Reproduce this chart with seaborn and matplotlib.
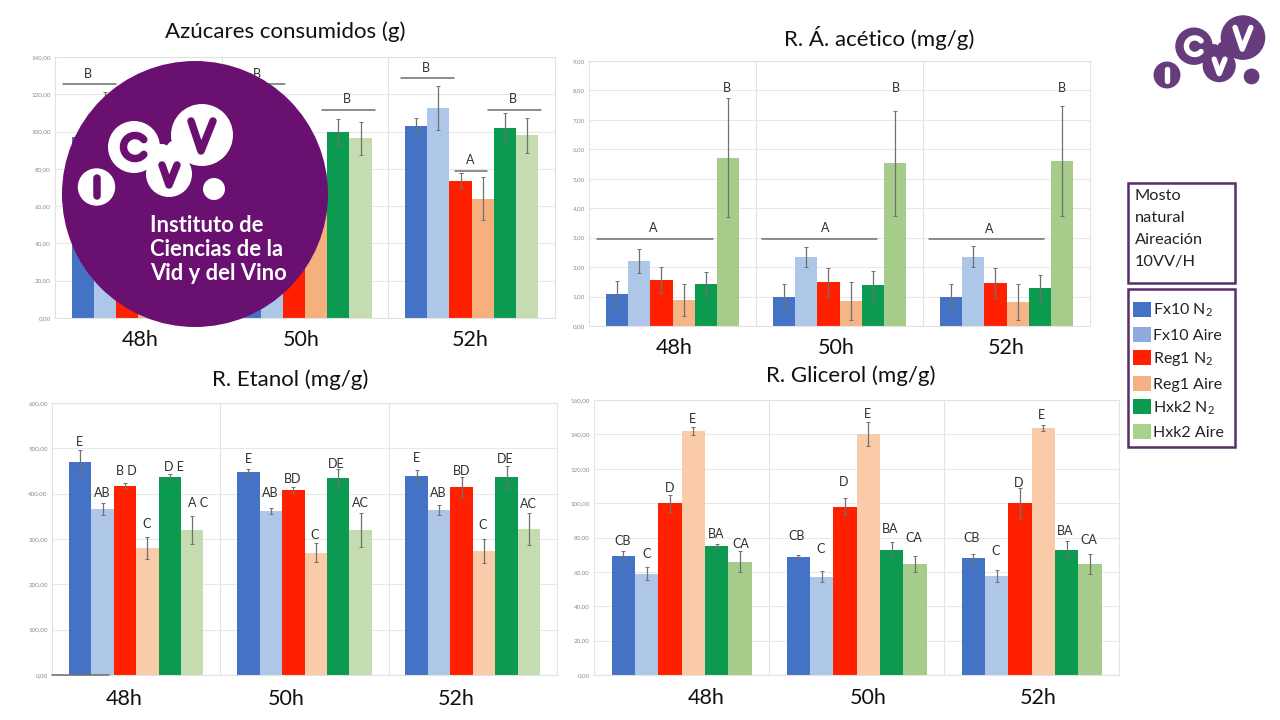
import matplotlib
matplotlib.use("Agg")
import matplotlib.pyplot as plt
from matplotlib.patches import Circle, Rectangle, Arc, Patch
import pandas as pd
import seaborn as sns

times = ["48h", "50h", "52h"]
strains = ["Fx10 N$_2$", "Fx10 Aire", "Reg1 N$_2$", "Reg1 Aire", "Hxk2 N$_2$", "Hxk2 Aire"]

# values per strain across 48h, 50h, 52h (azúcares at 48h/50h partly hidden by the logo: estimates)
azucares_vals = [[97, 101, 103], [110, 111, 112.5], [75, 75, 73.7], [65, 65, 64], [100, 100, 102], [96, 96.3, 98]]
azucares_errs = [[5, 5, 4.5], [11, 11, 11.7], [4, 4, 4.2], [11, 11, 11.5], [7, 7, 7.8], [9, 8.7, 9.5]]
acetico_vals = [[1.10, 1.00, 0.97], [2.20, 2.35, 2.35], [1.55, 1.48, 1.46], [0.88, 0.86, 0.82], [1.42, 1.38, 1.29], [5.72, 5.52, 5.60]]
acetico_errs = [[0.42, 0.43, 0.44], [0.41, 0.33, 0.35], [0.44, 0.49, 0.52], [0.55, 0.65, 0.61], [0.41, 0.48, 0.43], [2.02, 1.79, 1.87]]
etanol_vals = [[470, 447, 440], [367, 361, 364], [418, 408, 415], [280, 270, 273], [437, 435, 436], [319, 320, 322]]
etanol_errs = [[26, 7, 12], [13.5, 6.5, 10], [6, 7, 22], [25, 21, 26], [6, 20, 25], [31, 37, 36]]
glicerol_vals = [[69.5, 68.8, 67.8], [59, 57.3, 57.5], [100, 98, 99.8], [142, 140, 143.5], [75, 73, 73], [66, 64.5, 64.5]]
glicerol_errs = [[2.4, 0.8, 2.8], [4, 3.3, 3.6], [5, 5, 9], [2.2, 7, 1.7], [1.2, 4.5, 5], [6, 4.7, 5.8]]

azucares_ticks = [0, 20, 40, 60, 80, 100, 120, 140]
acetico_ticks = [0, 1, 2, 3, 4, 5, 6, 7, 8, 9]
etanol_ticks = [0, 100, 200, 300, 400, 500, 600]
glicerol_ticks = [0, 20, 40, 60, 80, 100, 120, 140, 160]

BLUE, LBLUE, RED, GREEN = "#4472c4", "#aec6e8", "#ff2000", "#0b9a4f"
pal_az = [BLUE, LBLUE, RED, "#f6b07e", GREEN, "#c5dcb0"]
pal_ac = [BLUE, LBLUE, RED, "#f6b586", GREEN, "#a5cc8a"]
pal_et = [BLUE, LBLUE, RED, "#f9cba8", GREEN, "#c5dcb0"]
pal_gl = [BLUE, LBLUE, RED, "#f9cba8", GREEN, "#a5cc8a"]

# annotations: (x in category units, y in data units, text)
az_text = [(-0.30, 131, "B"), (0.713, 131, "B"), (1.25, 117.6, "B"), (1.726, 134, "B"), (1.99, 85, "A"), (2.249, 117.6, "B")]
az_lines = [(-0.454, -0.131, 125.3), (0.544, 0.882, 125.3), (1.10, 1.42, 111.5), (1.574, 1.895, 128.9), (1.899, 2.09, 79), (2.097, 2.418, 111.5)]
ac_text = [(-0.116, 3.34, "A"), (0.327, 8.1, "B"), (0.914, 3.34, "A"), (1.34, 8.1, "B"), (1.898, 3.31, "A"), (2.33, 8.1, "B")]
ac_lines = [(-0.45, 0.242, 2.97), (0.533, 1.224, 2.97), (1.533, 2.224, 2.94)]
et_text = [(-0.337, 513, "E"), (-0.2, 401, "AB"), (-0.06, 449, "B D"), (0.06, 332, "C"), (0.227, 459, "D E"), (0.368, 379, "A C"),
           (0.667, 477, "E"), (0.794, 401, "AB"), (0.932, 433, "BD"), (1.06, 309, "C"), (1.19, 466, "DE"), (1.33, 379, "AC"),
           (1.663, 479, "E"), (1.794, 401, "AB"), (1.934, 449, "BD"), (2.06, 330, "C"), (2.19, 477, "DE"), (2.33, 377, "AC")]
et_lines = [(-0.5, -0.16, 0)]
gl_text = [(-0.337, 77.8, "CB"), (-0.198, 70.2, "C"), (-0.069, 109, "D"), (0.063, 149, "E"), (0.198, 81.8, "BA"), (0.337, 76, "CA"),
           (0.657, 80.9, "CB"), (0.796, 73.5, "C"), (0.927, 112.3, "D"), (1.06, 152, "E"), (1.19, 85, "BA"), (1.33, 79.5, "CA"),
           (1.655, 79.9, "CB"), (1.796, 72.3, "C"), (1.924, 111.5, "D"), (2.055, 151.3, "E"), (2.19, 84, "BA"), (2.33, 78.7, "CA")]
gl_lines = []

W, H = 1280, 720
FONT = ["Lato", "DejaVu Sans"]
panels = [
    dict(title="Azúcares consumidos (g)", box=(55, 555, 57, 318), tc=(285, 32), vals=azucares_vals, errs=azucares_errs,
         ticks=azucares_ticks, pal=pal_az, text=az_text, lines=az_lines, labx=(140, 301, 470), pad=9),
    dict(title="R. Á. acético (mg/g)", box=(589, 1090, 61, 326), tc=(879, 38), vals=acetico_vals, errs=acetico_errs,
         ticks=acetico_ticks, pal=pal_ac, text=ac_text, lines=ac_lines, labx=(674, 836, 1006), pad=9),
    dict(title="R. Etanol (mg/g)", box=(52, 557, 403, 675), tc=(290, 380), vals=etanol_vals, errs=etanol_errs,
         ticks=etanol_ticks, pal=pal_et, text=et_text, lines=et_lines, labx=(124, 286, 456), pad=10),
    dict(title="R. Glicerol (mg/g)", box=(594, 1119, 400, 675), tc=(851, 376), vals=glicerol_vals, errs=glicerol_errs,
         ticks=glicerol_ticks, pal=pal_gl, text=gl_text, lines=gl_lines, labx=(706, 868, 1038), pad=9),
]

sns.set_theme(style="whitegrid")
plt.rcParams["font.family"] = FONT
plt.rcParams["mathtext.default"] = "regular"
fig = plt.figure(figsize=(W / 100, H / 100), dpi=100, facecolor="white")

for p in panels:
    l, r, t, b = p["box"]
    ax = fig.add_axes([l / W, 1 - b / H, (r - l) / W, (b - t) / H])
    df = pd.DataFrame(
        [(tm, s, p["vals"][i][j]) for i, s in enumerate(strains) for j, tm in enumerate(times)],
        columns=["time", "strain", "value"],
    )
    sns.barplot(data=df, x="time", y="value", hue="strain", order=times, hue_order=strains, palette=p["pal"],
                width=0.8, gap=0, saturation=1, errorbar=None, legend=False, linewidth=0, ax=ax)
    bar_groups = list(ax.containers)
    for i, cont in enumerate(bar_groups):
        for j, bar in enumerate(cont):
            ax.errorbar(bar.get_x() + bar.get_width() / 2, bar.get_height(), yerr=p["errs"][i][j],
                        color="#707070", lw=0.9, capsize=1.2, capthick=0.7, zorder=4)
    ax.set_xlim(-0.5, 2.5)
    ax.set_ylim(p["ticks"][0], p["ticks"][-1])
    ax.set_yticks(p["ticks"], [f"{v:.2f}".replace(".", ",") for v in p["ticks"]])
    ax.set_xticks([(x - l) / (r - l) * 3 - 0.5 for x in p["labx"]], times)
    ax.tick_params(axis="y", labelsize=4.5, labelcolor="#8c8c8c", length=0, pad=3)
    ax.tick_params(axis="x", labelsize=15.5, labelcolor="#111111", length=0, pad=p["pad"])
    ax.set_xlabel("")
    ax.set_ylabel("")
    ax.grid(False, axis="x")
    ax.grid(True, axis="y", color="#e8e8e8", lw=0.8)
    ax.set_axisbelow(True)
    for xv in (0.5, 1.5):
        ax.axvline(xv, color="#e2e2e2", lw=0.8, zorder=0)
    for s in ax.spines.values():
        s.set_color("#e2e2e2")
        s.set_linewidth(0.8)
    for x0, x1, y in p["lines"]:
        ax.plot([x0, x1], [y, y], color="#6e6e6e", lw=1.1, zorder=5, clip_on=False)
    for x, y, s in p["text"]:
        ax.text(x, y, s, ha="center", va="center", fontsize=9, color="#303030", zorder=6)
    ax.set_title(p["title"], x=(p["tc"][0] - l) / (r - l), y=(b - p["tc"][1]) / (b - t), pad=0, va="center",
                 fontsize=16, color="#111111")

# overlay in pixel coordinates for logos and side boxes
ov = fig.add_axes([0, 0, 1, 1], facecolor="none", zorder=10)
ov.set_xlim(0, W)
ov.set_ylim(H, 0)
ov.axis("off")


def logo(ox, oy, k, bg, fg):
    def P(x, y):
        return ox + (x - 96.5) * k, oy + (y - 187) * k
    for x, y, rad in [(96.5, 187, 18.7), (134, 147, 26), (202, 135, 31), (169, 174, 23), (214, 189, 11), (162, 153, 9), (176, 150, 10)]:
        ov.add_patch(Circle(P(x, y), rad * k, fc=bg, ec="none"))
    lw = 7.5 * k * 0.72
    ov.plot(*zip(P(96.5, 178), P(96.5, 196)), color=fg, lw=lw, solid_capstyle="round")
    ov.add_patch(Arc(P(135, 147), 23 * k, 23 * k, angle=0, theta1=40, theta2=320, color=fg, lw=lw, capstyle="round"))
    ov.plot(*zip(P(191, 121), P(201, 151), P(213, 121)), color=fg, lw=lw, solid_capstyle="round", solid_joinstyle="round")
    ov.plot(*zip(P(162, 165), P(169, 185), P(177, 165)), color=fg, lw=lw, solid_capstyle="round", solid_joinstyle="round")


ov.add_patch(Circle((195, 194), 133, fc="#6a1070", ec="none"))
logo(96.5, 187, 1.0, "white", "#6a1070")
for y, s in [(225.5, "Instituto de"), (249.5, "Ciencias de la"), (273.5, "Vid y del Vino")]:
    ov.text(150, y, s, color="white", fontsize=15.8, fontweight="bold", va="center", ha="left")
logo(1167, 75, 0.72, "#663c7c", "white")

# side boxes
BOX = "#5a2d6a"
ov.add_patch(Rectangle((1127.5, 183), 107.5, 100, fc="white", ec=BOX, lw=1.8))
ov.add_patch(Rectangle((1127.5, 289), 107.5, 158, fc="white", ec=BOX, lw=1.8))
for y, s in [(196, "Mosto"), (218, "natural"), (240, "Aireación"), (262, "10VV/H")]:
    ov.text(1135, y, s, fontsize=11.8, color="#222222", va="center", ha="left")
legend_colors = [BLUE, "#8faadc", RED, "#f4b183", GREEN, "#a9d18e"]
handles = [Patch(fc=c, ec="none", label=s) for c, s in zip(legend_colors, strains)]
ov.legend(handles=handles, loc="upper left", bbox_to_anchor=(1133 / W, 1 - 302 / H), bbox_transform=fig.transFigure,
          frameon=False, fontsize=11.5, handlelength=1.13, handleheight=1.07, handletextpad=0.15, labelspacing=0.47,
          borderpad=0, borderaxespad=0, labelcolor="#222222")

fig.savefig("out.png", dpi=100)
